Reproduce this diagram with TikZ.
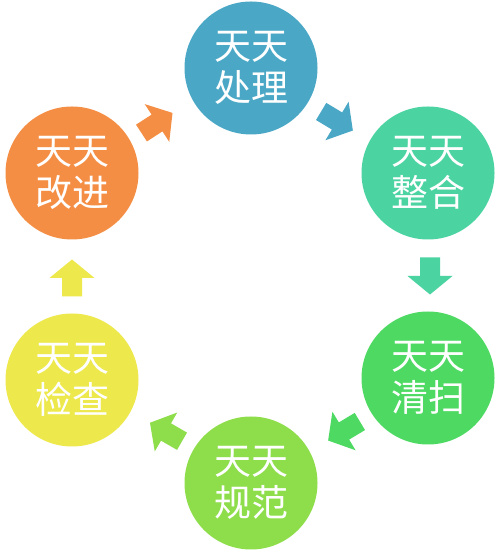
\documentclass[tikz,border=0pt]{standalone}
\usepackage{fontspec}
\newfontfamily\cjk{Noto Sans CJK SC}
\definecolor{cBlue}{HTML}{4AA8C6}
\definecolor{cTeal}{HTML}{4BD3A2}
\definecolor{cGreen}{HTML}{4DD962}
\definecolor{cLime}{HTML}{8EDD4B}
\definecolor{cYellow}{HTML}{EDE84B}
\definecolor{cOrange}{HTML}{F58E45}
\newcommand\blockarrow[4]{%
  \fill[#4, shift={(#1,#2)}, rotate=#3]
    (-18.5,-10) -- (0,-10) -- (0,-22.5) -- (18.5,0) -- (0,22.5) -- (0,10) -- (-18.5,10) -- cycle;}
\begin{document}
\begin{tikzpicture}[x=1pt,y=1pt,
  circ/.style={circle, fill=#1, minimum size=133pt, inner sep=0pt, text=white,
    font=\cjk\fontsize{37}{42}\selectfont, align=center}]
\useasboundingbox (0,0) rectangle (500,553);
\node[circ=cBlue]   (chuli)   at (251,485) {天天\\处理};
\node[circ=cTeal]   (zhenghe) at (428,380) {天天\\整合};
\node[circ=cGreen]  (qingsao) at (428,175) {天天\\清扫};
\node[circ=cLime]   (guifan)  at (251,70)  {天天\\规范};
\node[circ=cYellow] (jiancha) at (72,173)  {天天\\检查};
\node[circ=cOrange] (gaijin)  at (72,380)  {天天\\改进};
\blockarrow{157}{430}{33}{cOrange}
\blockarrow{337}{432}{-31}{cBlue}
\blockarrow{430}{277}{-90}{cTeal}
\blockarrow{344}{122}{-149}{cGreen}
\blockarrow{166}{121}{150}{cLime}
\blockarrow{72}{275}{90}{cYellow}
\end{tikzpicture}
\end{document}
